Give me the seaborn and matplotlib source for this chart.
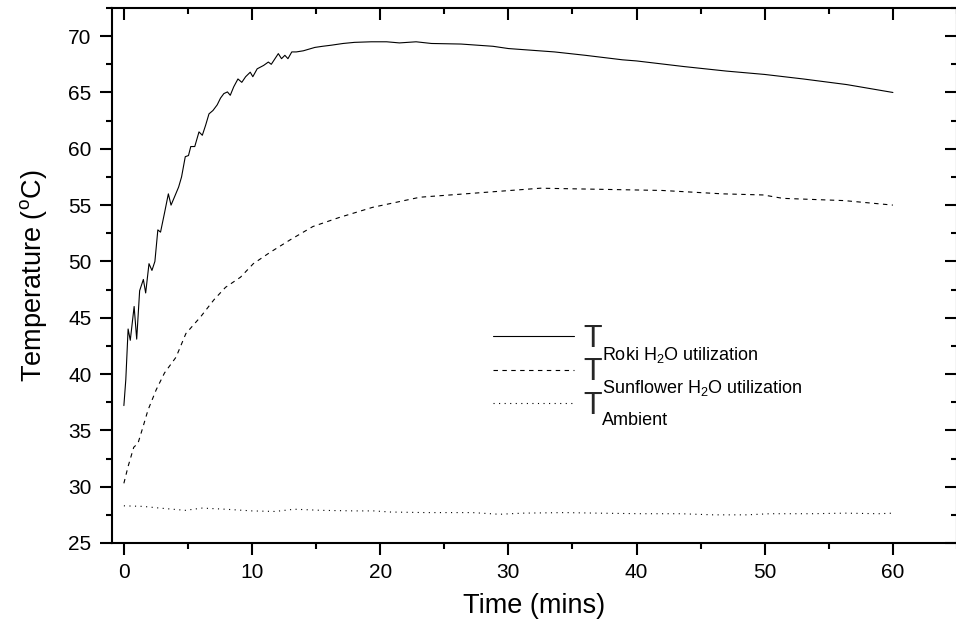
import matplotlib
matplotlib.use("Agg")
import matplotlib.pyplot as plt
import seaborn as sns
import pandas as pd
from matplotlib.lines import Line2D

# ---- data ----
roki_t = [0.0, 0.15, 0.33, 0.5, 0.8, 1.0, 1.23, 1.52, 1.7, 1.96, 2.19, 2.42, 2.65, 2.86,
          3.17, 3.47, 3.68, 3.94, 4.27, 4.5, 4.79, 5.04, 5.22, 5.53, 5.86, 6.12, 6.38, 6.64,
          6.95, 7.28, 7.54, 7.8, 8.08, 8.3, 8.57, 8.9, 9.2, 9.5, 9.86, 10.06, 10.4, 10.9,
          11.27, 11.5, 12.05, 12.3, 12.56, 12.8, 13.1, 13.45, 14.0, 14.9, 15.5, 16.2, 17.1,
          18.0, 19.3, 20.5, 21.5, 22.8, 24.0, 26.3, 28.8, 30.0, 33.6, 36.0, 38.9, 40.0,
          43.7, 47.0, 50.0, 53.0, 56.4, 60.0]
roki_T = [37.2, 39.5, 44.0, 43.0, 46.0, 43.1, 47.4, 48.4, 47.2, 49.8, 49.2, 50.0, 52.8, 52.6,
          54.3, 56.0, 55.0, 55.7, 56.6, 57.5, 59.3, 59.4, 60.2, 60.2, 61.5, 61.2, 62.1, 63.1,
          63.4, 63.9, 64.5, 64.9, 65.05, 64.75, 65.5, 66.2, 65.9, 66.4, 66.8, 66.4, 67.1, 67.4,
          67.7, 67.5, 68.45, 68.0, 68.3, 68.0, 68.6, 68.6, 68.7, 69.0, 69.1, 69.2, 69.35,
          69.45, 69.5, 69.5, 69.4, 69.5, 69.35, 69.3, 69.1, 68.9, 68.6, 68.3, 67.9, 67.8,
          67.3, 66.9, 66.6, 66.2, 65.7, 65.0]

sun_t = [0.0, 0.33, 0.77, 1.1, 1.49, 1.88, 2.52, 3.17, 4.07, 4.84, 6.0, 7.03, 7.93, 9.1,
         10.1, 11.4, 12.95, 14.75, 16.8, 19.4, 23.1, 27.8, 32.5, 37.3, 42.0, 46.7, 49.9,
         51.4, 56.2, 60.0]
sun_T = [30.3, 31.8, 33.5, 33.85, 35.3, 36.8, 38.6, 40.1, 41.5, 43.6, 45.1, 46.6, 47.7, 48.6,
         49.8, 50.8, 51.9, 53.1, 53.9, 54.8, 55.7, 56.1, 56.5, 56.4, 56.3, 56.0, 55.9,
         55.6, 55.4, 55.0]

amb_t = [0.0, 1.5, 2.8, 4.8, 6.1, 7.9, 10.0, 11.8, 13.3, 15.4, 18.0, 19.5, 20.8, 23.6,
         27.2, 29.3, 31.1, 34.4, 37.0, 40.4, 43.4, 46.0, 48.6, 50.4, 53.7, 56.3, 58.9, 60.0]
amb_T = [28.3, 28.25, 28.1, 27.9, 28.1, 28.0, 27.85, 27.8, 28.0, 27.9, 27.85, 27.85, 27.75,
         27.7, 27.7, 27.55, 27.65, 27.7, 27.65, 27.6, 27.6, 27.5, 27.5, 27.6, 27.6, 27.65,
         27.6, 27.65]

x_ticks = [0, 10, 20, 30, 40, 50, 60]
y_ticks = [25, 30, 35, 40, 45, 50, 55, 60, 65, 70]
legend_main = ["T", "T", "T"]
legend_sub = ["Roki H$_\\mathregular{2}$O utilization",
              "Sunflower H$_\\mathregular{2}$O utilization",
              "Ambient"]
x_label = "Time (mins)"
y_label = "Temperature ($^\\mathregular{o}$C)"

# ---- style ----
sns.set_theme(style="ticks")
plt.rcParams["font.family"] = ["Liberation Sans", "DejaVu Sans"]
plt.rcParams["mathtext.fontset"] = "custom"
plt.rcParams["mathtext.rm"] = "Liberation Sans"
plt.rcParams["mathtext.it"] = "Liberation Sans:italic"
plt.rcParams["mathtext.bf"] = "Liberation Sans:bold"

fig = plt.figure(figsize=(9.56, 6.23), dpi=100)
ax = fig.add_axes([111.7 / 956, 80 / 623, (957 - 111.7) / 956, (543 - 8) / 623])

lw = 0.8
sns.lineplot(x=roki_t, y=roki_T, ax=ax, color="black", lw=lw, estimator=None, sort=False)
sns.lineplot(x=sun_t, y=sun_T, ax=ax, color="black", lw=lw, estimator=None, sort=False,
             linestyle=(0, (4, 4)))
sns.lineplot(x=amb_t, y=amb_T, ax=ax, color="black", lw=lw, estimator=None, sort=False,
             linestyle=(0, (1, 4)))

ax.set_xlim(-0.95, 64.3)
ax.set_ylim(25, 72.5)
ax.set_xticks(x_ticks)
ax.set_yticks(y_ticks)
ax.set_xticks([5, 15, 25, 35, 45, 55, 65], minor=True)
ax.set_yticks([27.5, 32.5, 37.5, 42.5, 47.5, 52.5, 57.5, 62.5, 67.5, 72.5], minor=True)

for s in ax.spines.values():
    s.set_linewidth(1.5)
    s.set_color("black")

ax.tick_params(axis="both", which="major", labelsize=15, width=1.5, length=8.5,
               color="black", labelcolor="black", pad=6)
ax.tick_params(axis="both", which="minor", width=1.5, length=4.5, color="black")
ax.tick_params(axis="x", which="both", top=True, direction="out")
ax.tick_params(axis="y", which="both", right=True, direction="out")
for t in ax.xaxis.get_major_ticks() + ax.xaxis.get_minor_ticks():
    t.tick2line.set_marker(3)  # inward at top
for t in ax.yaxis.get_major_ticks() + ax.yaxis.get_minor_ticks():
    t.tick2line.set_marker(0)  # inward at right

ax.set_xlabel(x_label, fontsize=19.5, color="black", labelpad=8)
ax.set_ylabel(y_label, fontsize=19.5, color="black", labelpad=14)

handles = [Line2D([], [], color="black", lw=lw),
           Line2D([], [], color="black", lw=lw, linestyle=(0, (4, 4))),
           Line2D([], [], color="black", lw=lw, linestyle=(0, (1, 4)))]
leg = ax.legend(handles, legend_main, loc="upper left", bbox_to_anchor=(0.451, 0.41),
                frameon=False, fontsize=22, handlelength=2.65, handletextpad=0.3,
                labelspacing=0.12, borderpad=0, borderaxespad=0)
for txt, sub in zip(leg.get_texts(), legend_sub):
    ax.annotate(sub, xy=(1, 0.3), xycoords=txt, xytext=(0, 0), textcoords="offset points",
                ha="left", va="top", fontsize=13, color="black", zorder=10)

fig.savefig("out.png", dpi=100)
